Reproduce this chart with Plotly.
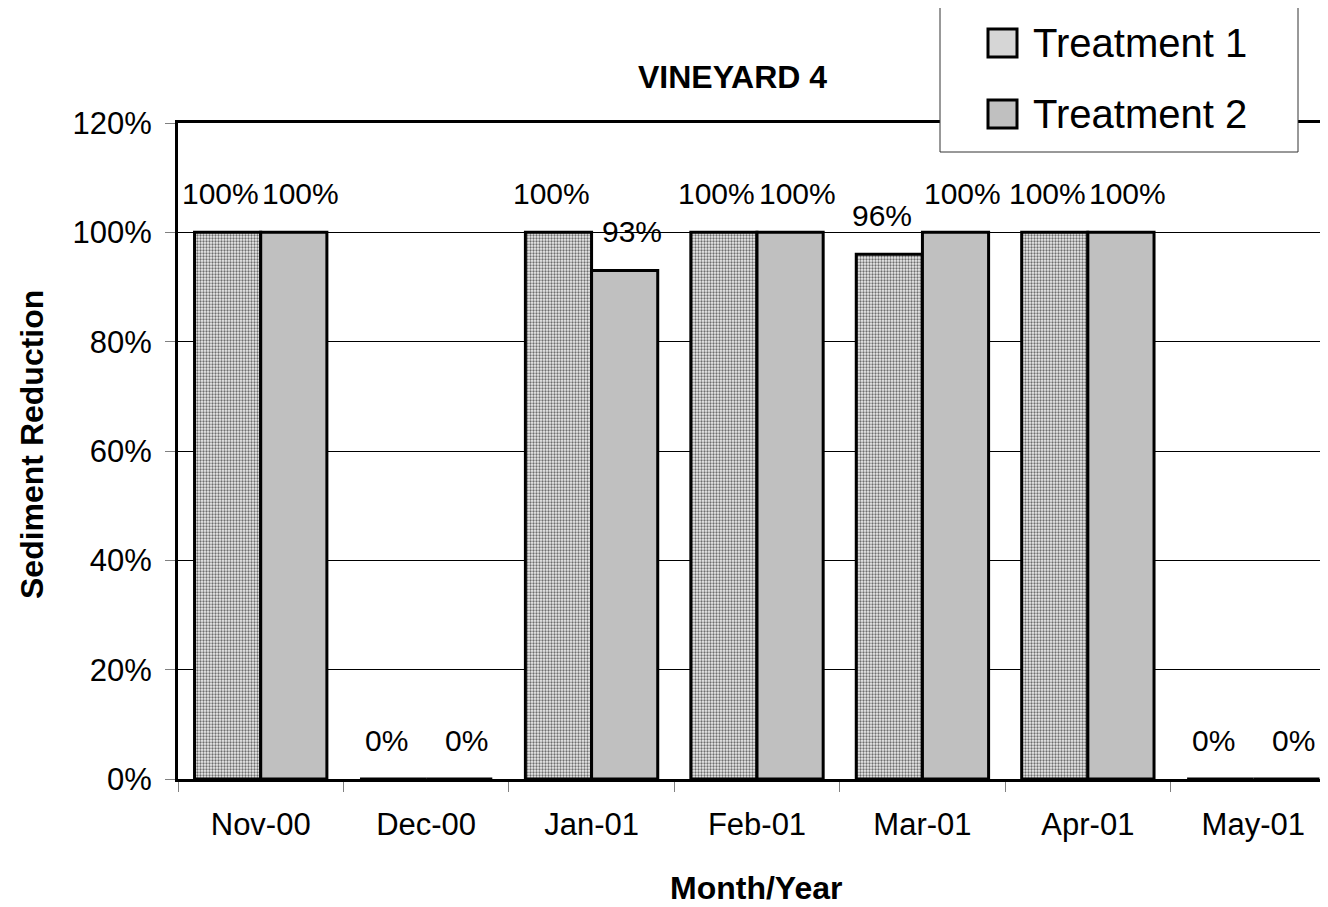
import plotly.graph_objects as go

months = ["Nov-00", "Dec-00", "Jan-01", "Feb-01", "Mar-01", "Apr-01", "May-01"]
treatment1 = [1.00, 0.00, 1.00, 1.00, 0.96, 1.00, 0.00]
treatment2 = [1.00, 0.00, 0.93, 1.00, 1.00, 1.00, 0.00]
labels1 = ["100%", "0%", "100%", "100%", "96%", "100%", "0%"]
labels2 = ["100%", "0%", "93%", "100%", "100%", "100%", "0%"]
series_names = ["Treatment 1", "Treatment 2"]

FONT = "Liberation Sans, Arial, sans-serif"
W, H = 1328, 907
L, R, T, B = 170, 0, 115, 136
PW, PH = W - L - R, H - T - B
OFF = 8  # page body margin


def px_x(x):
    return (x - OFF - L) / PW


def px_y(y):
    return (H - B - (y - OFF)) / PH


fig = go.Figure()
fig.add_trace(go.Bar(
    name=series_names[0], x=months, y=treatment1,
    marker=dict(color="white", line=dict(color="black", width=3),
                pattern=dict(shape=".", fgcolor="#6E6E6E", bgcolor="#EEEEEE", size=3, solidity=0.45)),
))
fig.add_trace(go.Bar(
    name=series_names[1], x=months, y=treatment2,
    marker=dict(color="#C0C0C0", line=dict(color="black", width=3)),
))

# data labels above bars
for i, m in enumerate(months):
    for val, lab, off, xs in ((treatment1[i], labels1[i], -0.2, -7), (treatment2[i], labels2[i], 0.2, 7)):
        fig.add_annotation(x=i + off, y=val, text=lab, showarrow=False, yanchor="middle",
                           xshift=xs, yshift=39, font=dict(size=30, color="black", family=FONT),
                           xref="x", yref="y")

# chart title and axis titles
fig.add_annotation(text="<b>VINEYARD 4</b>", x=px_x(732), y=px_y(77), xref="paper", yref="paper",
                   showarrow=False, xanchor="center", yanchor="middle",
                   font=dict(size=32, family=FONT, color="black"))
fig.add_annotation(text="<b>Month/Year</b>", x=px_x(756), y=px_y(888), xref="paper", yref="paper",
                   showarrow=False, xanchor="center", yanchor="middle",
                   font=dict(size=32, family=FONT, color="black"))
fig.add_annotation(text="<b>Sediment Reduction</b>", x=px_x(32), y=px_y(445), xref="paper", yref="paper",
                   showarrow=False, xanchor="center", yanchor="middle", textangle=-90,
                   font=dict(size=32, family=FONT, color="black"))

# legend (drawn manually so the keys match the reference size)
fig.add_shape(type="rect", xref="paper", yref="paper", x0=px_x(940), x1=px_x(1298),
              y0=px_y(152), y1=px_y(5), fillcolor="white", line=dict(color="#333333", width=1),
              layer="above")
key_fills = ["#D6D6D6", "#C0C0C0"]
row_centers = [43, 114]
for name, fill, yc in zip(series_names, key_fills, row_centers):
    fig.add_shape(type="rect", xref="paper", yref="paper", x0=px_x(988), x1=px_x(1017),
                  y0=px_y(yc + 14), y1=px_y(yc - 14), fillcolor=fill,
                  line=dict(color="black", width=3), layer="above")
    fig.add_annotation(text=name, x=px_x(1031), y=px_y(yc), xref="paper", yref="paper",
                       showarrow=False, xanchor="left", yanchor="middle",
                       font=dict(size=40, family=FONT, color="black"))

fig.update_layout(
    template="none",
    width=W, height=H,
    margin=dict(l=L, r=R, t=T, b=B, autoexpand=False),
    paper_bgcolor="white", plot_bgcolor="white",
    barmode="group", bargap=0.2, bargroupgap=0,
    font=dict(family=FONT, color="black"),
    showlegend=False,
)
fig.update_xaxes(
    range=[-0.5, 6.5], type="category", automargin=False,
    showline=True, linecolor="black", linewidth=3, mirror=True,
    ticks="outside", tickson="boundaries", ticklen=10, tickcolor="#808080", tickwidth=1,
    tickfont=dict(size=31), showgrid=False, zeroline=False,
    ticklabelstandoff=16,
)
fig.update_yaxes(
    range=[0, 1.2], dtick=0.2, tickformat=".0%", automargin=False,
    showline=True, linecolor="black", linewidth=3,
    ticks="outside", ticklen=10, tickcolor="#808080", tickwidth=1,
    showgrid=True, gridcolor="black", gridwidth=1,
    zeroline=False,
    tickfont=dict(size=31),
    ticklabelstandoff=7,
)

fig.write_html("out.html")
